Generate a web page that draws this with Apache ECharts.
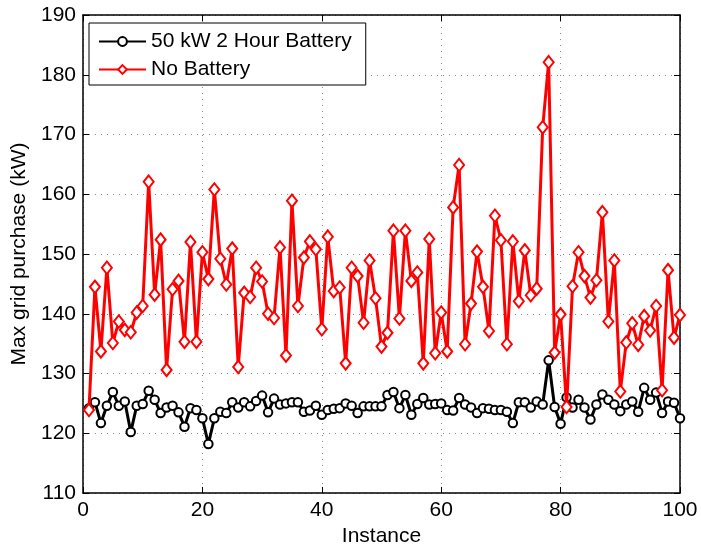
<!DOCTYPE html>
<html>
<head>
<meta charset="utf-8">
<script src="https://cdn.jsdelivr.net/npm/echarts@6/dist/echarts.min.js"></script>
<style>html,body{margin:0;padding:0;background:#fff}#c{width:701px;height:548px}</style>
</head>
<body>
<div id="c"></div>
<script>
var instances = [];
for (var k = 1; k <= 100; k++) instances.push(k);

var batteryValues = [
124.2,125.2,121.7,124.6,126.9,124.6,125.3,120.2,124.6,124.9,
127.1,125.6,123.4,124.3,124.6,123.5,121.1,124.2,123.9,122.5,
118.2,122.5,123.6,123.4,125.2,124.3,125.2,124.5,125.4,126.3,
123.5,125.8,124.8,125.0,125.2,125.2,123.6,123.8,124.6,123.1,
123.9,124.1,124.2,125.0,124.6,123.4,124.5,124.5,124.5,124.5,
126.4,126.9,124.2,126.4,123.1,124.9,125.9,124.8,124.9,125.0,
123.9,123.8,125.9,124.8,124.3,123.4,124.2,124.1,123.9,123.9,
123.6,121.7,125.2,125.2,124.3,125.3,124.8,132.2,124.4,121.6,
126.0,124.3,125.6,124.3,122.3,124.8,126.5,125.6,124.8,123.7,
124.8,125.3,123.6,127.6,125.6,126.8,123.4,125.3,125.1,122.5
];

var noBatteryValues = [
123.9,144.5,133.7,147.7,135.1,138.7,137.3,136.9,140.2,141.3,
162.1,143.2,152.4,130.6,144.1,145.5,135.3,152.0,135.3,150.3,
145.8,160.8,149.2,144.9,150.9,131.1,143.5,142.8,147.7,145.4,
140.0,139.3,151.1,133.0,158.9,141.3,149.4,152.1,150.8,137.4,
152.9,143.8,144.4,131.7,147.7,146.3,138.5,148.9,142.6,134.5,
136.8,153.9,139.2,153.9,145.5,146.9,131.7,152.5,133.4,140.2,
133.7,157.8,164.9,134.9,141.7,150.4,144.5,137.1,156.4,152.3,
134.9,152.1,142.1,150.6,143.1,144.2,171.2,182.1,133.5,139.9,
124.4,144.6,150.3,146.3,142.7,145.6,157.0,138.7,148.9,127.0,
135.2,138.4,134.8,139.6,137.2,141.3,127.2,147.3,136.0,139.8
];

var seriesNames = ['50 kW 2 Hour Battery', 'No Battery'];
var xTicks = [0, 20, 40, 60, 80, 100];
var yTicks = [110, 120, 130, 140, 150, 160, 170, 180, 190];

function pairs(vals) { return instances.map(function (x, i) { return [x, vals[i]]; }); }

var FONT = 'Liberation Sans';
var chart = echarts.init(document.getElementById('c'), null, { renderer: 'canvas' });

var gridLine = { show: true, lineStyle: { color: '#888', type: [1, 5], width: 1 } };
var axisLine = { show: true, onZero: false, lineStyle: { color: '#000', width: 1.5 } };
var axisTick = { show: true, inside: true, length: 6, lineStyle: { color: '#000', width: 1 } };

chart.setOption({
  animation: false,
  backgroundColor: '#fff',
  textStyle: { fontFamily: FONT },
  grid: { left: 83, right: 21, top: 15, bottom: 55, containLabel: false, outerBoundsMode: 'none' },
  legend: {
    orient: 'vertical',
    left: 89, top: 23,
    padding: [8, 14, 5, 9],
    itemGap: 7,
    itemWidth: 47, itemHeight: 11,
    backgroundColor: '#fff',
    borderColor: '#000', borderWidth: 1,
    textStyle: { fontFamily: FONT, fontSize: 21, color: '#000' },
    data: seriesNames
  },
  xAxis: [{
    type: 'value', min: xTicks[0], max: xTicks[xTicks.length - 1], interval: 20,
    name: 'Instance', nameLocation: 'middle', nameGap: 31,
    nameTextStyle: { fontFamily: FONT, fontSize: 21, color: '#000' },
    axisLine: axisLine, axisTick: axisTick, splitLine: gridLine,
    axisLabel: { fontFamily: FONT, fontSize: 21, color: '#000', margin: 7 }
  }, {
    type: 'value', position: 'top', min: xTicks[0], max: xTicks[xTicks.length - 1], interval: 20,
    axisLine: axisLine, axisTick: axisTick, splitLine: { show: false }, axisLabel: { show: false }
  }],
  yAxis: [{
    type: 'value', min: yTicks[0], max: yTicks[yTicks.length - 1], interval: 10,
    name: 'Max grid purchase (kW)', nameLocation: 'middle', nameGap: 47,
    nameTextStyle: { fontFamily: FONT, fontSize: 21, color: '#000' },
    axisLine: axisLine, axisTick: axisTick, splitLine: gridLine,
    axisLabel: { fontFamily: FONT, fontSize: 21, color: '#000', margin: 7 }
  }, {
    type: 'value', position: 'right', min: yTicks[0], max: yTicks[yTicks.length - 1], interval: 10,
    axisLine: axisLine, axisTick: axisTick, splitLine: { show: false }, axisLabel: { show: false }
  }],
  series: [{
    name: seriesNames[0], type: 'line', data: pairs(batteryValues),
    symbol: 'emptyCircle', symbolSize: 8.5,
    lineStyle: { color: '#000', width: 3 },
    itemStyle: { color: '#000', borderWidth: 3.5 },
    z: 2
  }, {
    name: seriesNames[1], type: 'line', data: pairs(noBatteryValues),
    symbol: 'emptyDiamond', symbolSize: [10, 12.5],
    lineStyle: { color: '#ff0000', width: 3 },
    itemStyle: { color: '#ff0000', borderWidth: 3.5 },
    z: 3
  }]
});
</script>
</body>
</html>
